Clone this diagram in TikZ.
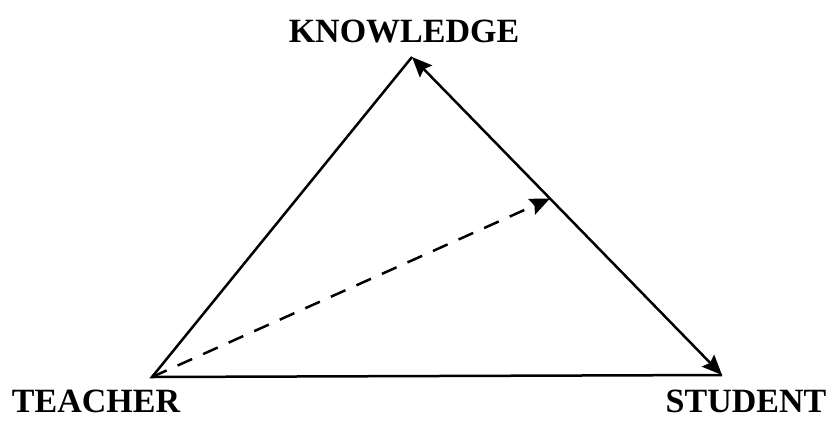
\documentclass[tikz,border=0pt]{standalone}
\usepackage{fontspec}
\setmainfont{Liberation Serif}
\usetikzlibrary{arrows.meta,calc}
\begin{document}
\begin{tikzpicture}[x=1pt,y=-1pt,
  edge/.style={line width=2.5pt},
  stk/.tip={Stealth[length=20pt,width=17pt,inset=3pt]},
  lbl/.style={anchor=base,font=\bfseries\fontsize{34}{40}\selectfont,inner sep=0pt}]
\useasboundingbox (0,0) rectangle (832,421);
\coordinate (T) at (152,377);
\coordinate (K) at (412,57);
\coordinate (S) at (722,375);
\coordinate (M) at ($(K)!0.445!(S)$);
\node[lbl] (kl) at (404,42) {KNOWLEDGE};
\node[lbl] (tl) at (96,412) {TEACHER};
\node[lbl] (sl) at (746,412) {STUDENT};
\draw[edge] (K) -- (T) -- (S);
\draw[edge,stk-stk] (K) -- (S);
\draw[edge,-stk,dash pattern=on 16pt off 12pt] (T) -- (M);
\end{tikzpicture}
\end{document}
